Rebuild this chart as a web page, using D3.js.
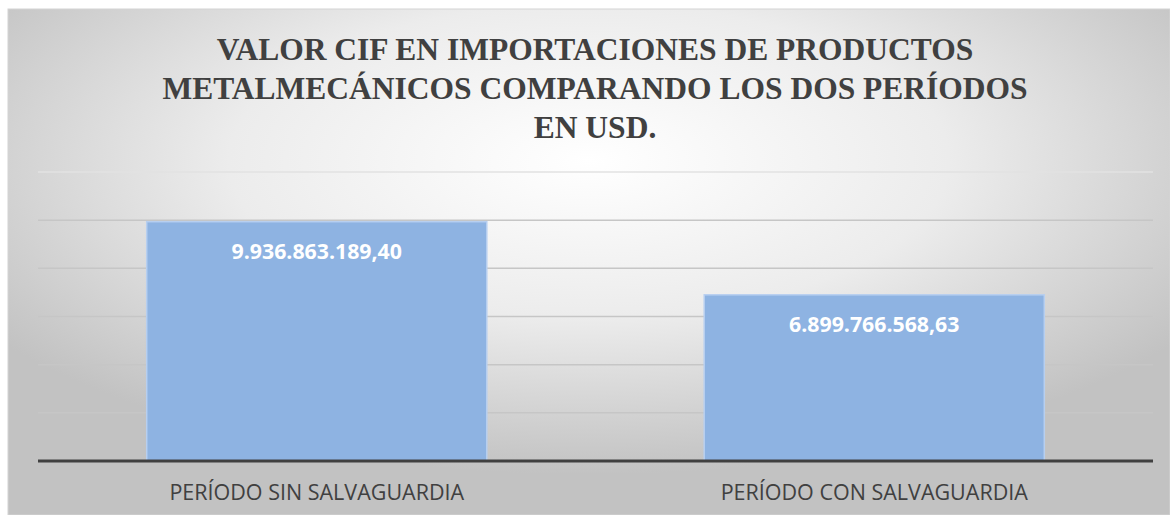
<!DOCTYPE html>
<html>
<head>
<meta charset="utf-8">
<script src="https://cdn.jsdelivr.net/npm/d3@7"></script>
<style>
  html, body { margin: 0; padding: 0; background: #fff; }
  svg { display: block; }
  .title { font-family: 'Liberation Serif', 'DejaVu Serif', 'Times New Roman', Times, serif; }
  .lbl { font-family: 'Open Sans', sans-serif; }
</style>
</head>
<body>
<script>
const categories = ['PERÍODO SIN SALVAGUARDIA', 'PERÍODO CON SALVAGUARDIA'];
const values = [9936863189.40, 6899766568.63];
const valueLabels = ['9.936.863.189,40', '6.899.766.568,63'];
const yTicks = [0, 2e9, 4e9, 6e9, 8e9, 10e9, 12e9];
const titleLines = [
  'VALOR CIF EN IMPORTACIONES DE PRODUCTOS',
  'METALMECÁNICOS COMPARANDO LOS DOS PERÍODOS',
  'EN USD.'
];

const W = 1170, H = 515;
const svg = d3.select('body').append('svg').attr('width', W).attr('height', H);

// background gradient
const defs = svg.append('defs');
const rg = defs.append('radialGradient').attr('id', 'bg')
  .attr('cx', '50%').attr('cy', '30%').attr('r', '62%');
rg.append('stop').attr('offset', '0%').attr('stop-color', '#ffffff');
rg.append('stop').attr('offset', '50%').attr('stop-color', '#ececec');
rg.append('stop').attr('offset', '100%').attr('stop-color', '#c2c2c2');

svg.append('rect')
  .attr('x', 8).attr('y', 9).attr('width', W - 8).attr('height', H - 9)
  .attr('fill', 'url(#bg)')
  .attr('stroke', '#d4d4d4').attr('stroke-width', 1);

const m = { left: 38, right: 1153, top: 172, bottom: 461 };

const x = d3.scaleBand().domain(categories)
  .range([m.left, m.right]).paddingInner(0.39).paddingOuter(0.195);
const y = d3.scaleLinear().domain([0, 12e9]).range([m.bottom, m.top]);

// gridlines
svg.append('g').selectAll('line')
  .data(yTicks.filter(d => d > 0))
  .join('line')
  .attr('x1', m.left).attr('x2', m.right)
  .attr('y1', d => y(d)).attr('y2', d => y(d))
  .attr('stroke', (d, i) => i === yTicks.length - 2 ? '#e2e2e2' : '#c6c6c6')
  .attr('stroke-width', 1.5);

// bars
svg.append('g').selectAll('rect')
  .data(values)
  .join('rect')
  .attr('x', (d, i) => x(categories[i]))
  .attr('width', x.bandwidth())
  .attr('y', d => y(d))
  .attr('height', d => m.bottom - y(d))
  .attr('fill', '#8eb3e2')
  .attr('stroke', '#b7cff0')
  .attr('stroke-width', 1.5);

// value labels
svg.append('g').selectAll('text')
  .data(values)
  .join('text')
  .attr('class', 'lbl')
  .attr('x', (d, i) => x(categories[i]) + x.bandwidth() / 2)
  .attr('y', d => y(d) + 37)
  .attr('text-anchor', 'middle')
  .attr('fill', '#ffffff')
  .attr('font-weight', 'bold')
  .attr('font-size', 21.3)
  .text((d, i) => valueLabels[i]);

// baseline
svg.append('line')
  .attr('x1', m.left).attr('x2', m.right)
  .attr('y1', m.bottom).attr('y2', m.bottom)
  .attr('stroke', '#404040').attr('stroke-width', 3);

// category axis labels
svg.append('g').selectAll('text')
  .data(categories)
  .join('text')
  .attr('class', 'lbl')
  .attr('x', d => x(d) + x.bandwidth() / 2)
  .attr('y', 500)
  .attr('text-anchor', 'middle')
  .attr('fill', '#404040')
  .attr('font-size', 21.5)
  .text(d => d);

// title
svg.append('g').selectAll('text')
  .data(titleLines)
  .join('text')
  .attr('class', 'title')
  .attr('x', 595)
  .attr('y', (d, i) => 60 + i * 39)
  .attr('text-anchor', 'middle')
  .attr('fill', '#404040')
  .attr('font-weight', 'bold')
  .attr('font-size', 31.5)
  .text(d => d);
</script>
</body>
</html>
